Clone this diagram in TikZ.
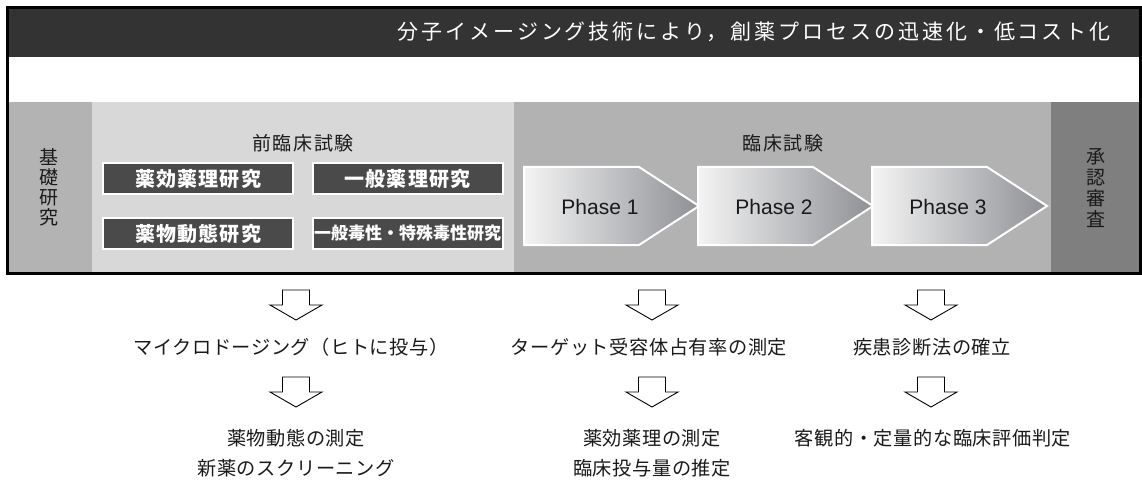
\documentclass[tikz,border=0pt]{standalone}
\usepackage{fontspec}
\setmainfont{Noto Sans CJK JP}
\newfontfamily\jpa[LetterSpace=3]{Noto Sans CJK JP}
\newfontfamily\jphead[LetterSpace=9]{Noto Sans CJK JP}
\newfontfamily\jpbox[LetterSpace=6]{Noto Sans CJK JP}
\newfontfamily\jptitle[LetterSpace=14]{Noto Sans CJK JP}
\newfontfamily\phasefont{Liberation Sans}
\definecolor{topband}{HTML}{333333}
\definecolor{basebg}{HTML}{B3B3B3}
\definecolor{prebg}{HTML}{D8D8D8}
\definecolor{clinbg}{HTML}{B2B2B2}
\definecolor{apprbg}{HTML}{7F7F7F}
\definecolor{boxfill}{HTML}{4A4A4A}
\definecolor{phL}{HTML}{F4F4F4}
\definecolor{phR}{HTML}{8E9095}
\definecolor{txt}{HTML}{1A1A1A}
\tikzset{
  studybox/.style={draw=white, line width=2pt, fill=boxfill, text=white,
    minimum width=190pt, minimum height=31pt, inner sep=0pt,
    font=\jpbox\bfseries\fontsize{20}{20}\selectfont},
  sectitle/.style={text=txt, inner sep=0pt, font=\jphead\fontsize{19}{19}\selectfont},
  vertlabel/.style={text=txt, inner sep=0pt, align=center},
  phaselabel/.style={text=txt, inner sep=0pt, font=\phasefont\fontsize{21}{21}\selectfont},
  result/.style={text=txt, inner sep=0pt, align=center, font=\jpa\fontsize{19.2}{30}\selectfont},
  downarr/.pic={\draw[black, line width=0.9pt, fill=white, line join=miter]
     (-13.5,0) -- (13.5,0) -- (13.5,15) -- (26,15) -- (0,30) -- (-26,15) -- (-13.5,15) -- cycle;}
}
\begin{document}
\begin{tikzpicture}[x=1pt,y=-1pt]
\useasboundingbox (0,0) rectangle (1142,481);
\fill[white] (0,0) rectangle (1142,481);
% bands
\fill[topband] (8,8) rectangle (1140,57);
\fill[white] (8,57) rectangle (1140,102);
\fill[basebg] (8,102) rectangle (92,272);
\fill[prebg] (92,102) rectangle (514,272);
\fill[clinbg] (514,102) rectangle (1051,272);
\fill[apprbg] (1051,102) rectangle (1140,272);
\draw[line width=3pt] (7.5,8) rectangle (1140.5,273.5);
% title
\node[anchor=east, text=white, inner sep=0pt, font=\jptitle\fontsize{21}{21}\selectfont] (title) at (1111,32) {分子イメージング技術により，創薬プロセスの迅速化・低コスト化};
% vertical labels
\node[vertlabel, font=\fontsize{19}{20}\selectfont] (kiso) at (49,187) {基\\礎\\研\\究};
\node[vertlabel, font=\fontsize{19}{21}\selectfont] (shonin) at (1096,188) {承\\認\\審\\査};
% section titles
\node[sectitle] (pre) at (303,143) {前臨床試験};
\node[sectitle] (clin) at (783,143) {臨床試験};
% study boxes
\node[studybox] (b1) at (198,178.5) {薬効薬理研究};
\node[studybox] (b2) at (407.5,178.5) {一般薬理研究};
\node[studybox] (b3) at (198,233.5) {薬物動態研究};
\node[studybox, font=\bfseries\fontsize{17}{17}\selectfont] (b4) at (407.5,233.5) {一般毒性・特殊毒性研究};
% phase arrows
\foreach \sx in {524,698,872}{
  \shade[left color=phL, right color=phR] (\sx,167) -- (\sx+115,167) -- (\sx+175,206) -- (\sx+115,245) -- (\sx,245) -- cycle;
  \draw[white, line width=2pt, line join=miter] (\sx,167) -- (\sx+115,167) -- (\sx+175,206) -- (\sx+115,245) -- (\sx,245) -- cycle;
}
\node[phaselabel] (ph1) at (600,207) {Phase 1};
\node[phaselabel] (ph2) at (774,207) {Phase 2};
\node[phaselabel] (ph3) at (948,207) {Phase 3};
% block arrows
\pic at (296,290) {downarr};
\pic at (296,377) {downarr};
\pic at (652,290) {downarr};
\pic at (652,377) {downarr};
\pic at (931,290) {downarr};
\pic at (931,377) {downarr};
% results
\node[result] (r1) at (291,347) {マイクロドージング（ヒトに投与）};
\node[result] (r2) at (649,347) {ターゲット受容体占有率の測定};
\node[result] (r3) at (932,347) {疾患診断法の確立};
\node[result] (r4) at (296,453) {薬物動態の測定\\新薬のスクリーニング};
\node[result] (r5) at (652,453) {薬効薬理の測定\\臨床投与量の推定};
\node[result] (r6) at (933,438) {客観的・定量的な臨床評価判定};
\end{tikzpicture}
\end{document}
